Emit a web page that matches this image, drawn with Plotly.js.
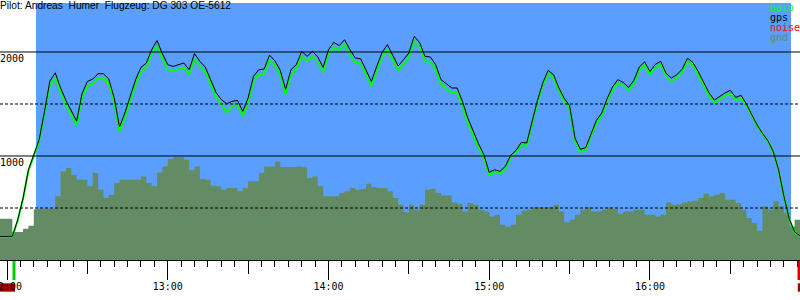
<!DOCTYPE html>
<html><head><meta charset="utf-8">
<script src="https://cdn.plot.ly/plotly-3.0.1.min.js"></script>
<style>html,body{margin:0;padding:0;background:#fff}#chart{width:800px;height:300px}</style>
</head><body><div id="chart"></div>
<script>
const flightDate = '2010-05-15';
const sampleTimes = ['11:56','11:58',
'12:00','12:02','12:04','12:06','12:08','12:10','12:12','12:14','12:16','12:18','12:20','12:22','12:24','12:26','12:28','12:30','12:32','12:34','12:36','12:38','12:40','12:42','12:44','12:46','12:48','12:50','12:52','12:54','12:56','12:58',
'13:00','13:02','13:04','13:06','13:08','13:10','13:12','13:14','13:16','13:18','13:20','13:22','13:24','13:26','13:28','13:30','13:32','13:34','13:36','13:38','13:40','13:42','13:44','13:46','13:48','13:50','13:52','13:54','13:56','13:58',
'14:00','14:02','14:04','14:06','14:08','14:10','14:12','14:14','14:16','14:18','14:20','14:22','14:24','14:26','14:28','14:30','14:32','14:34','14:36','14:38','14:40','14:42','14:44','14:46','14:48','14:50','14:52','14:54','14:56','14:58',
'15:00','15:02','15:04','15:06','15:08','15:10','15:12','15:14','15:16','15:18','15:20','15:22','15:24','15:26','15:28','15:30','15:32','15:34','15:36','15:38','15:40','15:42','15:44','15:46','15:48','15:50','15:52','15:54','15:56','15:58',
'16:00','16:02','16:04','16:06','16:08','16:10','16:12','16:14','16:16','16:18','16:20','16:22','16:24','16:26','16:28','16:30','16:32','16:34','16:36','16:38','16:40','16:42','16:44','16:46','16:48','16:50','16:52','16:54','16:56'];
const gpsAlt = [227,227,
227,227,387,596,868,1003,1157,1429,1720,1800,
1654,1535,1438,1335,1599,1717,1740,1791,1791,1740,
1558,1280,1413,1580,1734,1852,1894,2022,2110,1984,
1878,1861,1878,1894,1830,1984,1910,1855,1734,1612,
1541,1503,1525,1535,1430,1558,1766,1830,1836,1970,
1915,1823,1640,1830,1878,2006,1958,2006,1952,1852,
2022,2092,2061,2118,2022,1942,1935,1830,1717,1861,
1996,2070,1974,1865,1926,1990,2150,2092,1958,1952,
1878,1734,1695,1654,1654,1525,1365,1237,1118,1013,
842,868,852,900,1006,1054,1131,1125,1330,1535,
1702,1823,1782,1654,1554,1484,1173,1065,1080,1221,
1342,1413,1551,1663,1734,1708,1660,1727,1855,1905,
1813,1881,1910,1794,1750,1782,1833,1940,1900,1813,
1711,1609,1538,1573,1606,1631,1564,1583,1500,1397,
1298,1217,1147,1044,868,612,394,269,234];
const baroAlt = [227,227,
227,227,380,590,860,995,1145,1415,1675,1755,
1610,1490,1390,1290,1555,1672,1695,1745,1745,1695,
1513,1235,1368,1535,1690,1807,1850,1977,2060,1940,
1830,1815,1830,1850,1785,1935,1865,1810,1690,1568,
1497,1420,1480,1490,1385,1512,1720,1785,1790,1925,
1870,1778,1595,1785,1832,1960,1912,1960,1906,1806,
1976,2046,2015,2072,1976,1896,1890,1784,1672,1815,
1950,2024,1928,1820,1880,1945,2105,2046,1912,1906,
1832,1690,1650,1608,1610,1480,1320,1195,1080,980,
815,845,830,878,980,1030,1105,1100,1305,1510,
1678,1795,1752,1625,1525,1455,1148,1040,1055,1195,
1315,1385,1522,1633,1704,1680,1630,1697,1825,1875,
1785,1850,1880,1765,1720,1752,1803,1910,1870,1783,
1682,1580,1510,1545,1578,1602,1535,1555,1490,1390,
1292,1212,1142,1040,865,610,392,267,232];
const gndAlt = [397,397,
397,269,269,300,330,488,493,493,493,612,
852,884,820,772,772,708,836,676,596,628,
740,772,772,772,772,804,740,708,842,900,
971,990,990,964,862,900,779,772,714,708,
676,692,692,660,692,756,756,836,900,900,
948,894,894,894,900,894,788,804,708,612,
612,612,644,660,692,676,682,734,702,692,
692,660,596,532,458,532,484,532,676,682,
644,621,621,554,541,467,548,532,484,467,
419,435,339,323,339,435,474,484,506,506,
506,506,532,467,362,387,435,484,506,467,
467,484,506,490,445,467,467,484,484,435,
435,419,435,554,532,535,554,564,570,596,
638,612,628,644,580,580,548,484,404,356,
282,516,484,564,516,452,323,387,397];
const flightWindow = ['12:10:50', '16:52:39'];
const takeoffTime = '12:02:37';
const landingTime = '16:55:38';
const noiseSpans = [['11:55:00', '12:03:00'], ['16:55:10', '16:58:00']];
const gridLevels = [500, 1000, 1500, 2000];
const yTickVals = [1000, 2000];
const xRange = ['11:57:23', '16:56:00'];
const hourTick0 = '12:00';
const legendNames = ['baro', 'gps', 'noise', 'gnd'];
const legendColors = ['#00ff00', '#000000', '#ff0000', '#648c64'];
const titleText = 'Pilot: Andreas\u00a0 Humer\u00a0 Flugzeug: DG 303 OE-5612';

const T = t => flightDate + ' ' + (t.length === 5 ? t + ':00' : t);
const mono = {family: 'DejaVu Sans Mono', size: 10, color: '#000'};
const blue = '#5a9eff', gndColor = '#648c64';

const traces = [
  {x: sampleTimes.map(T), y: gndAlt, type: 'scatter', mode: 'lines', line: {shape: 'hv', width: 0, color: gndColor},
   fill: 'tozeroy', fillcolor: gndColor, xaxis: 'x', yaxis: 'y', hoverinfo: 'skip'},
  {x: sampleTimes.map(T), y: baroAlt, type: 'scatter', mode: 'lines', line: {color: legendColors[0], width: 2},
   xaxis: 'x2', yaxis: 'y', hoverinfo: 'skip'},
  {x: sampleTimes.map(T), y: gpsAlt, type: 'scatter', mode: 'lines', line: {color: legendColors[1], width: 1},
   xaxis: 'x2', yaxis: 'y', hoverinfo: 'skip'}
];

const shapes = [
  {type: 'rect', xref: 'x', yref: 'paper', x0: T(flightWindow[0]), x1: T(flightWindow[1]), y0: 0, y1: 1,
   fillcolor: blue, line: {width: 0}, layer: 'below'}
];
gridLevels.forEach(v => shapes.push({type: 'line', xref: 'paper', yref: 'y', x0: 0, x1: 1, y0: v, y1: v,
  line: {color: '#000', width: 1, dash: v % 1000 ? '3px,2px' : 'solid'}, layer: 'above'}));
noiseSpans.forEach(s => shapes.push({type: 'rect', xref: 'x', yref: 'paper', x0: T(s[0]), x1: T(s[1]),
  y0: -0.0907, y1: -0.1233, fillcolor: '#9b0000', line: {width: 0}, layer: 'below'}));
shapes.push({type: 'line', xref: 'x', yref: 'paper', x0: T(takeoffTime), x1: T(takeoffTime), y0: -0.004, y1: -0.078,
  line: {color: '#00d000', width: 3}, layer: 'above'});
shapes.push({type: 'line', xref: 'x', yref: 'paper', x0: T(landingTime), x1: T(landingTime), y0: -0.004, y1: -0.078,
  line: {color: '#e00000', width: 3}, layer: 'above'});

const legendY = [0.9844, 0.9455, 0.9066, 0.8677];
const annotations = legendNames.map((n, i) => ({text: n, xref: 'paper', yref: 'paper', x: 0.96125, y: legendY[i],
  xanchor: 'left', yanchor: 'middle', showarrow: false, font: {family: 'DejaVu Sans Mono', size: 10, color: legendColors[i]}, borderpad: 0}));

const xCommon = {type: 'date', range: [T(xRange[0]), T(xRange[1])], tick0: T(hourTick0), ticks: 'outside',
  tickcolor: '#000', tickwidth: 1, showgrid: false, zeroline: false, fixedrange: true};

const layout = {
  width: 800, height: 300, margin: {l: 0, r: 0, t: 3, b: 40, pad: 0},
  paper_bgcolor: '#fff', plot_bgcolor: 'rgba(0,0,0,0)', showlegend: false,
  title: {text: titleText, font: {family: 'Liberation Sans', size: 10.2, color: '#000'},
    x: 0, xref: 'container', xanchor: 'left', y: 1, yref: 'container', yanchor: 'top', pad: {t: 1.5, l: 0, r: 0, b: 0}},
  xaxis: Object.assign({}, xCommon, {dtick: 3600000, ticklen: 19, tickformat: '%H:%M', tickfont: mono,
    showline: true, linecolor: '#000', linewidth: 1, ticklabeloverflow: 'allow', ticklabelstandoff: -2,
    minor: {dtick: 300000, tick0: T(hourTick0), ticks: 'outside', ticklen: 6, tickcolor: '#000', tickwidth: 1, showgrid: false}}),
  xaxis2: Object.assign({}, xCommon, {overlaying: 'x', anchor: 'y', side: 'bottom', dtick: 1800000, ticklen: 13,
    showticklabels: false, showline: false}),
  yaxis: {range: [0, 2471], tickvals: yTickVals, ticktext: yTickVals.map(String), ticks: '', showgrid: false,
    zeroline: false, showline: false, ticklabelposition: 'inside', ticklabelshift: 7, ticklabelstandoff: -3,
    ticklabeloverflow: 'allow', tickfont: mono, fixedrange: true},
  shapes: shapes, annotations: annotations
};

Plotly.newPlot('chart', traces, layout, {staticPlot: true, displayModeBar: false});
</script></body></html>
